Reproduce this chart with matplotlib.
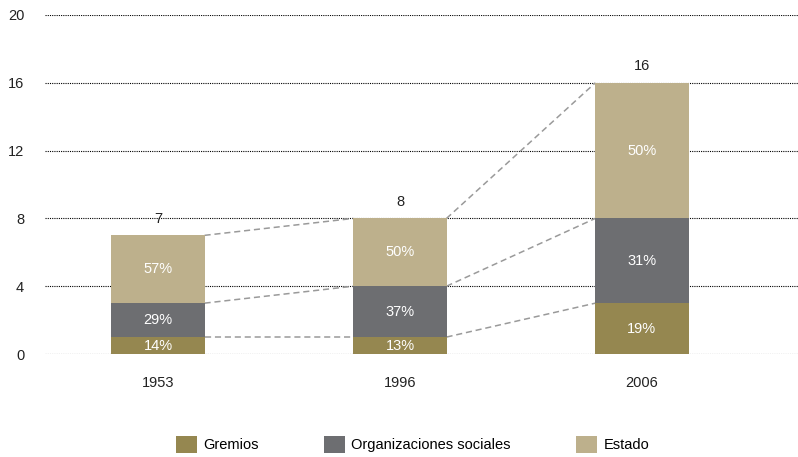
import matplotlib
matplotlib.use("Agg")
import matplotlib.pyplot as plt
from matplotlib.patches import Patch
import numpy as np

plt.rcParams['font.family'] = ['Liberation Sans Narrow', 'Liberation Sans', 'DejaVu Sans']
plt.rcParams['font.size'] = 10.5

years = ["1953", "1996", "2006"]
gremios = [1, 1, 3]
org_sociales = [2, 3, 5]
estado = [4, 4, 8]
pct_gremios = ["14%", "13%", "19%"]
pct_org = ["29%", "37%", "31%"]
pct_estado = ["57%", "50%", "50%"]
y_ticks = [0, 4, 8, 12, 16, 20]

names = ["Gremios", "Organizaciones sociales", "Estado"]
colors = ["#958750", "#6d6e71", "#bdb08c"]

fig = plt.figure(figsize=(7.98, 4.57), dpi=100)
ax = fig.add_axes([45 / 798, 103 / 457, 1 - 45 / 798, 339 / 457])

x = np.arange(len(years))
width = 0.385
series = [gremios, org_sociales, estado]
labels = [pct_gremios, pct_org, pct_estado]

for yt in y_ticks:
    ax.axhline(yt, color="black", linestyle=(0, (1, 1)), linewidth=0.8, zorder=1)

bottom = np.zeros(len(years))
tops = []
for vals, labs, col in zip(series, labels, colors):
    vals = np.array(vals)
    ax.bar(x, vals, width, bottom=bottom, color=col, zorder=3)
    for xi, b, v, lab in zip(x, bottom, vals, labs):
        ax.text(xi, b + v / 2, lab, color="white", ha="center", va="center",
                fontsize=10.5, zorder=4)
    bottom = bottom + vals
    tops.append(bottom.copy())

# connecting dashed lines between bars
for level in tops:
    for i in range(len(years) - 1):
        ax.plot([x[i] + width / 2, x[i + 1] - width / 2], [level[i], level[i + 1]],
                color="#9a9a9a", linestyle=(0, (4, 2.5)), linewidth=1.1, zorder=2)

for xi, total in zip(x, bottom):
    ax.text(xi, total + 0.55, f"{int(total)}", ha="center", va="bottom",
            fontsize=10.5, color="#222222")

ax.set_xlim(-0.467, 2.645)
ax.set_ylim(0, 20)
ax.set_yticks(y_ticks)
ax.set_xticks(x)
ax.set_xticklabels(years)
ax.tick_params(axis="both", length=0, labelsize=10.5, colors="#222222")
ax.tick_params(axis="y", pad=15)
ax.tick_params(axis="x", pad=16)
for s in ax.spines.values():
    s.set_visible(False)

handles = [Patch(facecolor=c, edgecolor="none") for c in colors]
leg = fig.legend(handles, names, loc="center", bbox_to_anchor=(0.517, 0.028),
                 ncol=3, frameon=False, handlelength=1.4, handleheight=1.4,
                 handletextpad=0.45, columnspacing=4.5, fontsize=10.5)

fig.savefig("out.png", dpi=100)
